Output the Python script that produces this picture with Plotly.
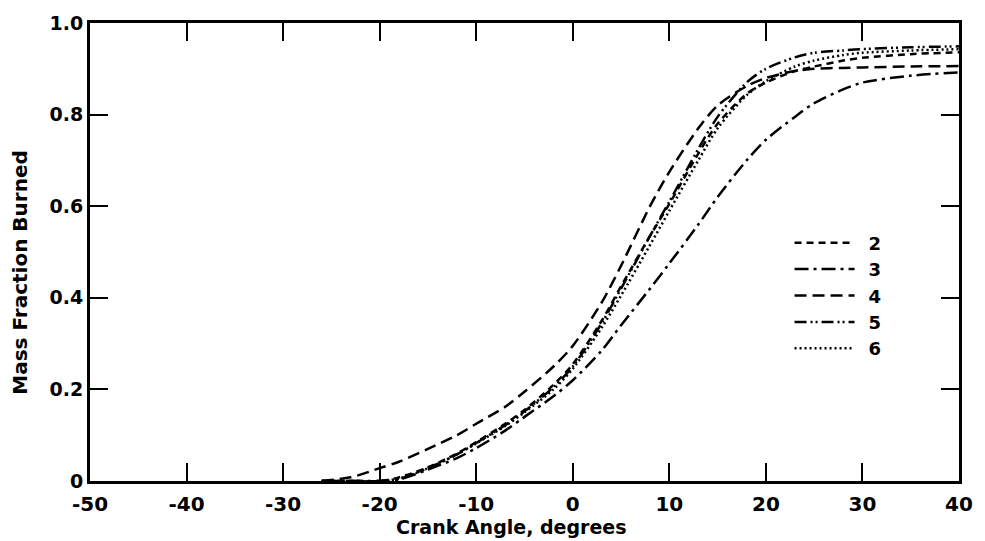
import plotly.graph_objects as go

angles = [-26, -23, -20, -18, -15, -12, -10, -7, -5, -2, 0, 3, 5, 8, 10, 13, 15, 18, 20, 23, 25, 28, 30, 35, 40]

mfb_2 = [0, 0, 0.0, 0.008, 0.03, 0.06, 0.085, 0.125, 0.155, 0.21, 0.255, 0.35, 0.425, 0.535, 0.605, 0.715, 0.78, 0.845, 0.87, 0.895, 0.905, 0.918, 0.924, 0.932, 0.936]
mfb_3 = [0, 0, 0, 0.003, 0.025, 0.05, 0.072, 0.11, 0.14, 0.185, 0.22, 0.285, 0.34, 0.42, 0.475, 0.56, 0.62, 0.70, 0.745, 0.795, 0.825, 0.855, 0.87, 0.885, 0.892]
mfb_4 = [0, 0.008, 0.028, 0.042, 0.07, 0.10, 0.125, 0.162, 0.195, 0.25, 0.295, 0.39, 0.47, 0.60, 0.675, 0.77, 0.82, 0.862, 0.88, 0.895, 0.90, 0.902, 0.903, 0.905, 0.906]
mfb_5 = [0, 0, 0, 0.005, 0.028, 0.058, 0.083, 0.122, 0.152, 0.205, 0.25, 0.345, 0.42, 0.535, 0.61, 0.725, 0.795, 0.87, 0.90, 0.925, 0.935, 0.94, 0.943, 0.947, 0.949]
mfb_6 = [0, 0, 0, 0.005, 0.028, 0.058, 0.082, 0.12, 0.15, 0.2, 0.245, 0.335, 0.405, 0.515, 0.59, 0.70, 0.77, 0.842, 0.873, 0.905, 0.918, 0.93, 0.935, 0.94, 0.943]

series_names = ["2", "3", "4", "5", "6"]
series_values = [mfb_2, mfb_3, mfb_4, mfb_5, mfb_6]
dashes = ["7px,5px", "14px,5px,3px,5px", "12px,6px", "12px,4px,2px,3px,2px,4px", "2px,3px"]

x_ticks = [-50, -40, -30, -20, -10, 0, 10, 20, 30, 40]
x_ticktext = ["-50", "-40", "-30", "-20", "-10", "0", "10", "20", "30", "40"]
y_ticks = [0, 0.2, 0.4, 0.6, 0.8, 1.0]
y_ticktext = ["0", "0.2", "0.4", "0.6", "0.8", "1.0"]

fig = go.Figure()
for name, vals, dash in zip(series_names, series_values, dashes):
    fig.add_trace(go.Scatter(
        x=angles, y=vals, mode="lines", name="\u2002" + name,
        line=dict(color="black", width=2.5, dash=dash, shape="spline", smoothing=0.8),
    ))

font_family = "DejaVu Sans"
fig.update_layout(
    width=985, height=541,
    margin=dict(l=90, r=19, t=18, b=60),
    paper_bgcolor="white", plot_bgcolor="white",
    font=dict(family=font_family, color="black", size=20),
    showlegend=True,
    legend=dict(
        x=0.805, y=0.56, xanchor="left", yanchor="top",
        bgcolor="rgba(0,0,0,0)", borderwidth=0,
        font=dict(size=18, family=font_family, weight="bold"),
        itemwidth=60, tracegroupgap=0,
    ),
    xaxis=dict(
        range=[-50, 40], tickmode="array", tickvals=x_ticks, ticktext=x_ticktext,
        ticks="inside", ticklen=18, tickwidth=2, tickcolor="black",
        showline=True, linecolor="black", linewidth=3, mirror="ticks",
        showgrid=False, zeroline=False, ticklabelstandoff=3,
        tickfont=dict(size=20, family=font_family, weight="bold"),
    ),
    yaxis=dict(
        range=[0, 1.0], tickmode="array", tickvals=y_ticks, ticktext=y_ticktext,
        ticks="inside", ticklen=18, tickwidth=2, tickcolor="black",
        showline=True, linecolor="black", linewidth=3, mirror="ticks",
        showgrid=False, zeroline=False,
        tickfont=dict(size=19, family=font_family, weight="bold"),
    ),
    annotations=[
        dict(text="Crank Angle, degrees", xref="paper", yref="paper",
             x=(515 - 90) / 876, y=-0.1, xanchor="center", yanchor="middle",
             showarrow=False, font=dict(size=19, family=font_family, weight="bold")),
        dict(text="Mass Fraction Burned", xref="paper", yref="paper",
             x=-0.08, y=(481 - 270) / 463, xanchor="center", yanchor="middle",
             textangle=-90, showarrow=False,
             font=dict(size=20, family=font_family, weight="bold")),
    ],
)

fig.write_html("out.html")
